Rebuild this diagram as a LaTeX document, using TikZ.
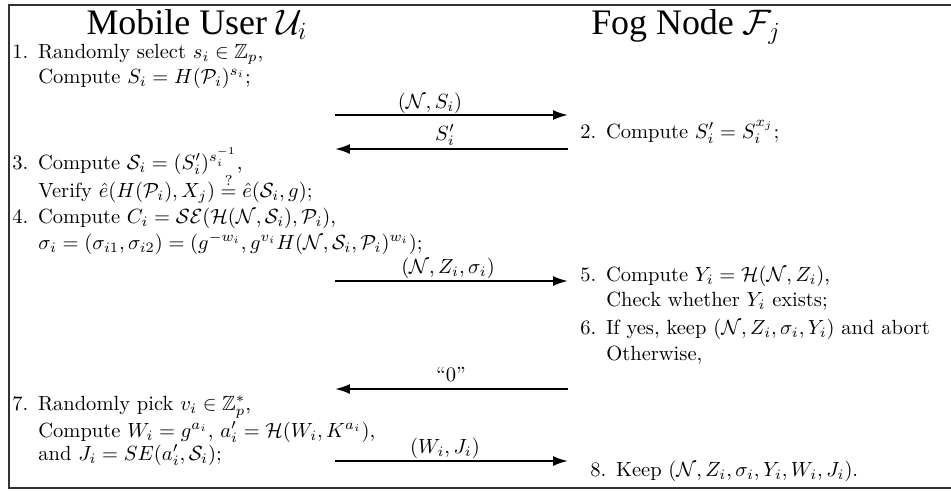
\documentclass[tikz,border=0pt]{standalone}
\usepackage{amsmath,amssymb}
\usepackage{fontspec}
\newfontfamily\titlefont{Liberation Serif}
\usetikzlibrary{arrows.meta}
\begin{document}
\begin{tikzpicture}[x=0.4873pt,y=-0.4873pt,
  txt/.style={anchor=base west,inner sep=0pt,font=\fontsize{10}{12}\selectfont},
  lbl/.style={anchor=base,inner sep=0pt,font=\fontsize{10}{12}\selectfont},
  ttl/.style={anchor=base,inner sep=0pt,font=\fontsize{17.5}{21}\titlefont},
  msg/.style={line width=1pt,-{Latex[length=7.3pt,width=4.9pt]}},
  frame/.style={line width=1pt,draw=black!80}]
\useasboundingbox (0,0) rectangle (951,492);
\draw[frame] (955,5) -- (9,5) -- (9,488) -- (955,488);
\newcommand{\num}[1]{\makebox[1.25em][l]{#1}}
% titles
\node[ttl] (tu) at (197,34) {Mobile User $\mathcal{U}_{i}$};
\node[ttl] (tf) at (686,34) {Fog Node $\mathcal{F}_{j}$};
% left column
\node[txt] (s1a) at (12,58) {\num{1.}Randomly select $s_i\in\mathbb{Z}_p$,};
\node[txt] (s1b) at (38,83) {Compute $S_i=H(\mathcal{P}_i)^{s_i}$;};
\node[txt] (s3a) at (12,169) {\num{3.}Compute $\mathcal{S}_i=(S'_i)^{s_i^{-1}}$,};
\node[txt] (s3b) at (38,197) {Verify $\hat{e}(H(\mathcal{P}_i),X_j)\stackrel{?}{=}\hat{e}(\mathcal{S}_i,g)$;};
\node[txt] (s4a) at (12,223) {\num{4.}Compute $C_i=\mathcal{SE}(\mathcal{H}(\mathcal{N},\mathcal{S}_i),\mathcal{P}_i)$,};
\node[txt] (s4b) at (38,249) {$\sigma_i=(\sigma_{i1},\sigma_{i2})=(g^{-w_i},g^{v_i}H(\mathcal{N},\mathcal{S}_i,\mathcal{P}_i)^{w_i})$;};
\node[txt] (s7a) at (12,410) {\num{7.}Randomly pick $v_i\in\mathbb{Z}_p^*$,};
\node[txt] (s7b) at (38,437) {Compute $W_i=g^{a_i}$, $a'_i=\mathcal{H}(W_i,K^{a_i})$,};
\node[txt] (s7c) at (38,460) {and $J_i=SE(a'_i,\mathcal{S}_i)$;};
% right column
\node[txt] (s2) at (580,138) {\num{2.}Compute $S'_i=S_i^{x_j}$;};
\node[txt] (s5a) at (580,281) {\num{5.}Compute $Y_i=\mathcal{H}(\mathcal{N},Z_i)$,};
\node[txt] (s5b) at (606,306) {Check whether $Y_i$ exists;};
\node[txt] (s6a) at (580,334) {\num{6.}If yes, keep $(\mathcal{N},Z_i,\sigma_i,Y_i)$ and abort};
\node[txt] (s6b) at (606,360) {Otherwise,};
\node[txt] (s8) at (590,476) {\num{8.}Keep $(\mathcal{N},Z_i,\sigma_i,Y_i,W_i,J_i)$.};
% messages
\coordinate (m1l) at (335,115); \coordinate (m1r) at (568,115);
\coordinate (m2l) at (335,149); \coordinate (m2r) at (568,149);
\coordinate (m3l) at (335,281); \coordinate (m3r) at (568,281);
\coordinate (m4l) at (335,389); \coordinate (m4r) at (568,389);
\coordinate (m5l) at (335,461); \coordinate (m5r) at (568,461);
\draw[msg] (m1l) -- (m1r);
\draw[msg] (m2r) -- (m2l);
\draw[msg] (m3l) -- (m3r);
\draw[msg] (m4r) -- (m4l);
\draw[msg] (m5l) -- (m5r);
\node[lbl] (l1) at (430,108) {$(\mathcal{N},S_i)$};
\node[lbl] (l2) at (445,140) {$S'_i$};
\node[lbl] (l3) at (448,273) {$(\mathcal{N},Z_i,\sigma_i)$};
\node[lbl] (l4) at (451,381) {``0''};
\node[lbl] (l5) at (445,453) {$(W_i,J_i)$};
\end{tikzpicture}
\end{document}
